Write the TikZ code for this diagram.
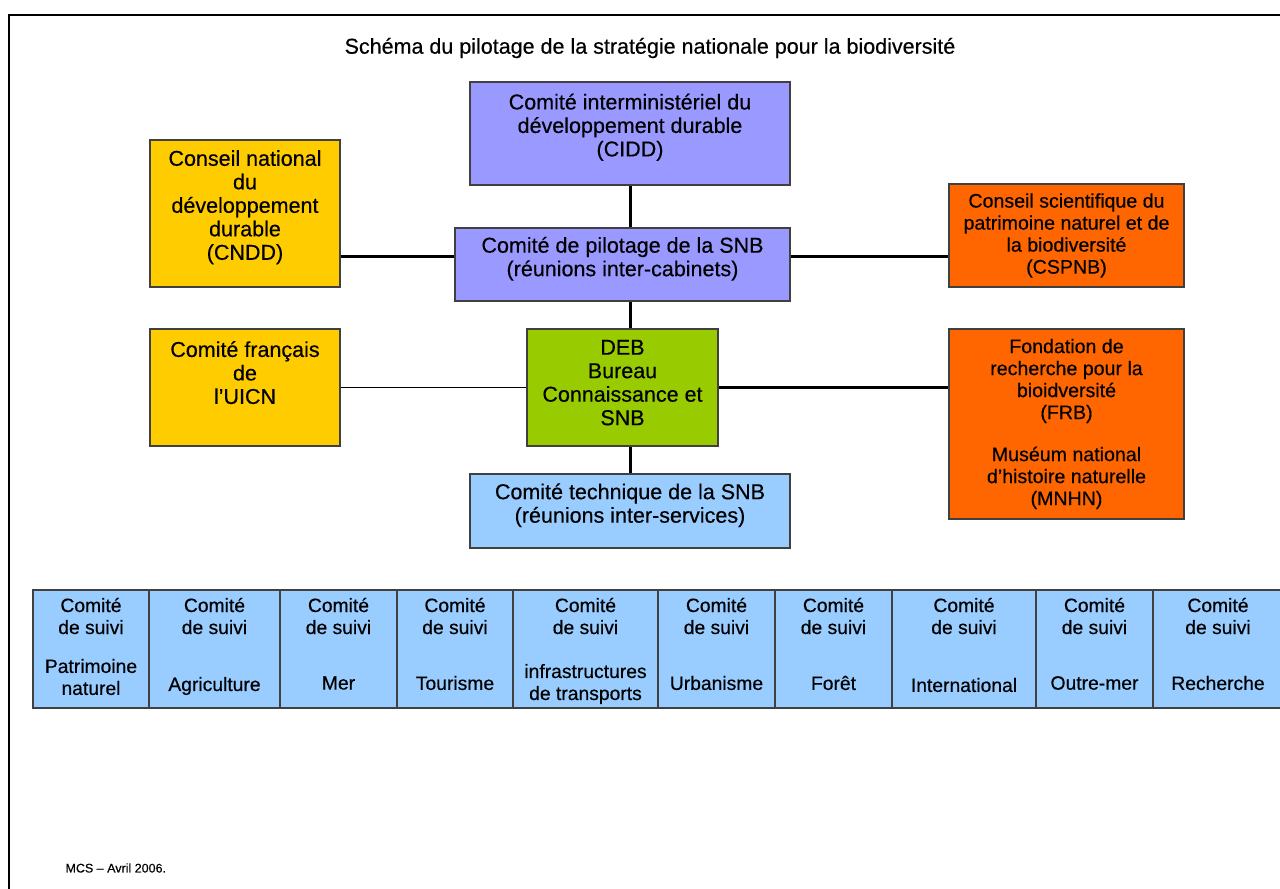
\documentclass[tikz,border=0pt]{standalone}
\usepackage{fontspec}
\setmainfont{Liberation Sans}[FakeBold=0.4]

\definecolor{lavender}{HTML}{9999FF}
\definecolor{gold}{HTML}{FFCC00}
\definecolor{rust}{HTML}{FF6600}
\definecolor{lime}{HTML}{99CC00}
\definecolor{sky}{HTML}{99CCFF}

\begin{document}
\begin{tikzpicture}[x=1pt, y=-1pt,
    box/.style={draw=black!75, line width=1.2pt, align=center, inner sep=0pt,
        font=\fontsize{21.5}{23.5}\selectfont},
    smallbox/.style={box, font=\fontsize{19.6}{22}\selectfont},
    cell/.style={draw=black!75, line width=1.2pt, fill=sky, inner sep=0pt, minimum height=118pt},
    suivi/.style={align=center, inner sep=0pt, font=\fontsize{19.3}{22}\selectfont},
    link/.style={line width=3pt},
    thinlink/.style={line width=1.2pt}]
    \useasboundingbox (0,0) rectangle (1280,889);
    \clip (0,0) rectangle (1280,889);

    \draw[line width=2.5pt] (9,15) rectangle (1300,910);

    \node[font=\fontsize{21.5}{23.5}\selectfont] (title) at (650,48)
        {Schéma du pilotage de la stratégie nationale pour la biodiversité};

    % upper boxes
    \node[box, fill=lavender, minimum width=320pt, minimum height=103pt, text depth=17pt] (cidd) at (630,133.5)
        {Comité interministériel du\\développement durable\\(CIDD)};
    \node[box, fill=gold, minimum width=190pt, minimum height=147pt, text depth=17pt] (cndd) at (245,213.5)
        {Conseil national\\du\\développement\\durable\\(CNDD)};
    \node[box, fill=lavender, minimum width=335pt, minimum height=73pt, text depth=16pt] (pilot) at (622.5,264.5)
        {Comité de pilotage de la SNB\\(réunions inter-cabinets)};
    \node[smallbox, fill=rust, minimum width=235pt, minimum height=103pt] (cspnb) at (1066.5,235.5)
        {Conseil scientifique du\\patrimoine naturel et de\\la biodiversité\\(CSPNB)};

    % middle boxes
    \node[box, fill=gold, minimum width=190pt, minimum height=117pt, text depth=30pt] (uicn) at (245,387.5)
        {Comité français\\de\\l’UICN};
    \node[box, fill=lime, minimum width=191pt, minimum height=117pt, text depth=10pt] (deb) at (622.5,387.5)
        {DEB\\Bureau\\Connaissance et\\SNB};
    \node[smallbox, fill=rust, minimum width=235pt, minimum height=190pt] (frb) at (1066.5,424)
        {Fondation de\\recherche pour la\\bioidversité\\(FRB)\\[20pt]Muséum national\\d’histoire naturelle\\(MNHN)};
    \node[box, fill=sky, minimum width=320pt, minimum height=74pt, text depth=16pt] (tech) at (630,511)
        {Comité technique de la SNB\\(réunions inter-services)};

    % connectors
    \coordinate (mid) at (0,256);
    \draw[link] (cndd.east |- mid) -- (pilot.west |- mid);
    \draw[link] (pilot.east |- mid) -- (cspnb.west |- mid);
    \draw[link] (cidd.south) -- (cidd.south |- pilot.north);
    \draw[link] (cidd.south |- pilot.south) -- (cidd.south |- deb.north);
    \draw[link] (cidd.south |- deb.south) -- (tech.north);
    \draw[thinlink] (uicn.east) -- (deb.west);
    \draw[link] (deb.east) -- (frb.west |- deb.east);

    % comites de suivi
    \foreach \l/\r/\nm/\ty/\txt in {
        33/149/pat/677/{Patrimoine\\naturel},
        149/280/agr/686/Agriculture,
        280/397/mer/683/Mer,
        397/513/tou/683/Tourisme,
        513/658/inf/684/{infrastructures\\de transports},
        658/775/urb/683/Urbanisme,
        775/892/for/683/Forêt,
        892/1036/int/685/International,
        1036/1153/out/683/Outre-mer,
        1153/1283/rec/683/Recherche} {
        \pgfmathsetmacro\w{\r-\l}
        \node[cell, minimum width=\w pt] (\nm) at ({(\l+\r)/2},649) {};
        \node[suivi] (\nm-top) at ({(\l+\r)/2},616) {Comité\\de suivi};
        \node[suivi] (\nm-lbl) at ({(\l+\r)/2},\ty) {\txt};
    }

    \node[anchor=west, font=\fontsize{12.5}{14}\selectfont] (credit) at (62,868) {MCS – Avril 2006.};
\end{tikzpicture}
\end{document}
